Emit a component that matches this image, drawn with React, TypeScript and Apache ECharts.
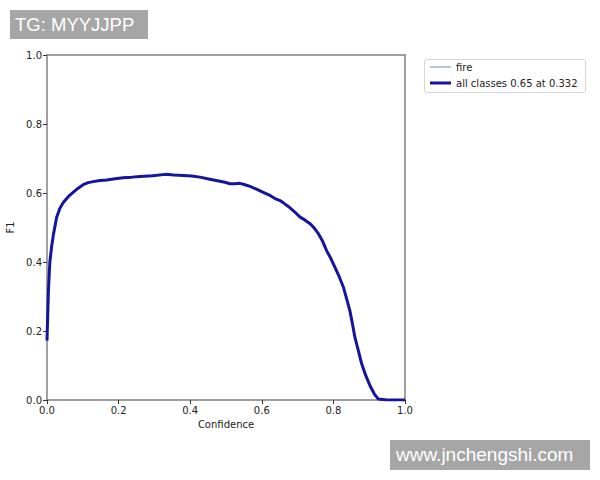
import React, { useEffect, useRef } from "react";
import * as echarts from "echarts";

const confidence = [
  0.0, 0.001, 0.004, 0.008, 0.013, 0.018, 0.027, 0.036, 0.046, 0.06, 0.073, 0.087, 0.101, 0.115,
  0.129, 0.148, 0.167, 0.19, 0.213, 0.237, 0.26, 0.295, 0.33, 0.355, 0.381, 0.404, 0.427, 0.455,
  0.483, 0.497, 0.511, 0.525, 0.539, 0.553, 0.567, 0.585, 0.604, 0.623, 0.637, 0.651, 0.662,
  0.674, 0.69, 0.707, 0.72, 0.735, 0.746, 0.758, 0.77, 0.781, 0.793, 0.804, 0.816, 0.828, 0.837,
  0.846, 0.853, 0.86, 0.87, 0.879, 0.89, 0.902, 0.914, 0.925, 0.95, 1.0,
];
const f1AllClasses = [
  0.172, 0.172, 0.317, 0.4, 0.445, 0.48, 0.53, 0.556, 0.573, 0.59, 0.602, 0.614, 0.624, 0.63,
  0.633, 0.636, 0.638, 0.641, 0.644, 0.646, 0.648, 0.65, 0.654, 0.652, 0.651, 0.649, 0.646, 0.64,
  0.634, 0.631, 0.627, 0.627, 0.628, 0.624, 0.619, 0.611, 0.602, 0.593, 0.584, 0.578, 0.57,
  0.561, 0.547, 0.53, 0.522, 0.511, 0.499, 0.482, 0.46, 0.433, 0.41, 0.385, 0.358, 0.327, 0.293,
  0.259, 0.222, 0.182, 0.142, 0.105, 0.072, 0.042, 0.018, 0.003, 0.0, 0.0,
];
const f1Fire = f1AllClasses;

const legendFire = "fire";
const legendAll = "all classes 0.65 at 0.332";
const topLabel = "TG: MYYJJPP";
const bottomLabel = "www.jnchengshi.com";

export default function App() {
  const ref = useRef<HTMLDivElement>(null);
  useEffect(() => {
    if (!ref.current) return;
    const chart = echarts.init(ref.current, undefined, { renderer: "svg" });
    const font = "DejaVu Sans";
    const spine = { show: true, onZero: false, lineStyle: { color: "#808080", width: 1.5 } };
    const axisCommon = {
      type: "value" as const,
      min: 0,
      max: 1,
      interval: 0.2,
      axisLine: spine,
      axisTick: { show: true, length: 4, lineStyle: { color: "#333", width: 1 } },
      axisLabel: {
        color: "#222",
        fontFamily: font,
        fontSize: 10,
        margin: 5,
        formatter: (v: number) => v.toFixed(1),
      },
      splitLine: { show: false },
      nameLocation: "middle" as const,
      nameTextStyle: { color: "#222", fontFamily: font, fontSize: 10 },
    };
    const frameAxis = {
      type: "value" as const,
      min: 0,
      max: 1,
      interval: 0.2,
      axisLine: spine,
      axisTick: { show: false },
      axisLabel: { show: false },
      splitLine: { show: false },
    };
    const legendText = { fontFamily: font, fontSize: 10, color: "#222" };
    chart.setOption({
      animation: false,
      backgroundColor: "#ffffff",
      grid: { left: 47, right: 195, top: 55, bottom: 80, outerBoundsMode: "none", containLabel: false },
      xAxis: [
        { ...axisCommon, name: "Confidence", nameGap: 15, position: "bottom" },
        { ...frameAxis, position: "top" },
      ],
      yAxis: [
        { ...axisCommon, name: "F1", nameGap: 27, position: "left" },
        { ...frameAxis, position: "right" },
      ],
      legend: [
        {
          orient: "vertical",
          left: 430,
          top: 62,
          data: [{ name: legendFire, icon: "rect" }],
          itemWidth: 21,
          itemHeight: 1,
          textStyle: legendText,
          padding: 0,
        },
        {
          orient: "vertical",
          left: 430,
          top: 78,
          data: [{ name: legendAll, icon: "rect" }],
          itemWidth: 21,
          itemHeight: 3,
          textStyle: legendText,
          padding: 0,
        },
      ],
      graphic: [
        {
          type: "rect",
          left: 424,
          top: 59,
          shape: { width: 161, height: 33, r: 2 },
          style: { fill: "#ffffff", stroke: "#d6d6d6", lineWidth: 1 },
          z: -1,
        },
        { type: "rect", left: 10, top: 10, shape: { width: 138, height: 29 }, style: { fill: "#a6a6a6" } },
        {
          type: "text",
          left: 15,
          top: 15,
          style: { text: topLabel, fill: "#ffffff", font: "18.5px 'Liberation Sans'" },
        },
        { type: "rect", left: 390, top: 440, shape: { width: 200, height: 30 }, style: { fill: "#a6a6a6" } },
        {
          type: "text",
          left: 396,
          top: 445,
          style: { text: bottomLabel, fill: "#ffffff", font: "19px 'Liberation Sans'" },
        },
      ],
      series: [
        {
          name: legendFire,
          type: "line",
          symbol: "none",
          data: confidence.map((c, i) => [c, f1Fire[i]]),
          lineStyle: { color: "#6b8fa8", width: 1 },
          itemStyle: { color: "#6b8fa8" },
          z: 2,
        },
        {
          name: legendAll,
          type: "line",
          symbol: "none",
          data: confidence.map((c, i) => [c, f1AllClasses[i]]),
          lineStyle: { color: "#14149c", width: 3 },
          itemStyle: { color: "#14149c" },
          z: 3,
        },
      ],
    });
    return () => chart.dispose();
  }, []);
  return <div ref={ref} style={{ position: "fixed", left: 0, top: 0, width: 600, height: 480 }} />;
}
